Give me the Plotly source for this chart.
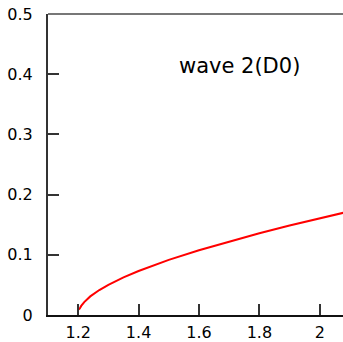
import plotly.graph_objects as go

# Amplitude of wave 2 (D0) versus control parameter
x_vals = [1.2, 1.205, 1.21, 1.22, 1.24, 1.27, 1.30, 1.35, 1.40, 1.45, 1.50,
          1.60, 1.70, 1.80, 1.90, 2.00, 2.08]
y_vals = [0.009, 0.0106, 0.0151, 0.0215, 0.0309, 0.0415, 0.0502, 0.0624, 0.073,
          0.0826, 0.0915, 0.1075, 0.1222, 0.1358, 0.1486, 0.1606, 0.170]

x_ticks = [1.2, 1.4, 1.6, 1.8, 2.0]
x_tick_text = ["1.2", "1.4", "1.6", "1.8", "2"]
y_ticks = [0, 0.1, 0.2, 0.3, 0.4, 0.5]
y_tick_text = ["0", "0.1", "0.2", "0.3", "0.4", "0.5"]

label = "wave 2(D0)"

fig = go.Figure()
fig.add_trace(go.Scatter(x=x_vals, y=y_vals, mode="lines",
                         line=dict(color="#ff0000", width=2), showlegend=False,
                         cliponaxis=True))

font = dict(family="DejaVu Sans", size=16, color="#000000")

fig.update_layout(
    width=343, height=342,
    margin=dict(l=48, r=0, t=14, b=27),
    paper_bgcolor="white", plot_bgcolor="white",
    font=font,
    xaxis=dict(range=[1.1, 2.077], tickvals=x_ticks, ticktext=x_tick_text,
               ticks="inside", ticklen=11, tickwidth=1.5, tickcolor="#333333",
               showline=True, linecolor="#111111", linewidth=2,
               showgrid=False, zeroline=False, ticklabelstandoff=2,
               tickfont=font),
    yaxis=dict(range=[0, 0.5], tickvals=y_ticks, ticktext=y_tick_text,
               ticks="inside", ticklen=11, tickwidth=1.5, tickcolor="#333333",
               showline=True, linecolor="#333333", linewidth=2,
               showgrid=False, zeroline=False, ticklabelstandoff=10,
               tickfont=font),
    shapes=[dict(type="line", xref="paper", yref="paper", x0=0, x1=1, y0=1, y1=1,
                 line=dict(color="#777777", width=2))],
    annotations=[dict(text=label, xref="paper", yref="paper", x=0.648, y=0.828,
                      xanchor="center", yanchor="middle", showarrow=False,
                      font=dict(family="DejaVu Sans", size=21, color="#000000"))],
)

fig.write_html("out.html")
